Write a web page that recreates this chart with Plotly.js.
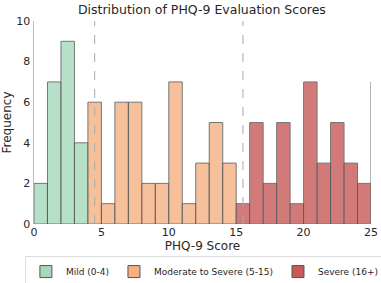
<!DOCTYPE html>
<html><head><meta charset="utf-8">
<script src="https://cdn.plot.ly/plotly-3.0.1.min.js"></script>
<style>html,body{margin:0;padding:0;background:#fff;}#chart{width:381px;height:283px;}</style>
</head><body><div id="chart"></div>
<script>
// bin centres (width-1 bins) and counts
const mildBins = [0.5, 1.5, 2.5, 3.5];
const mildCounts = [2, 7, 9, 4];
const moderateBins = [4.5, 5.5, 6.5, 7.5, 8.5, 9.5, 10.5, 11.5, 12.5, 13.5, 14.5];
const moderateCounts = [6, 1, 6, 6, 2, 2, 7, 1, 3, 5, 3];
const severeBins = [15.5, 16.5, 17.5, 18.5, 19.5, 20.5, 21.5, 22.5, 23.5, 24.5];
const severeCounts = [1, 5, 2, 5, 1, 7, 3, 5, 3, 2];
const seriesNames = ["Mild (0-4)", "Moderate to Severe (5-15)", "Severe (16+)"];
const cutoffs = [4.5, 15.5];
const xTicks = [0, 5, 10, 15, 20, 25];
const yTicks = [0, 2, 4, 6, 8, 10];

const colors = ["#a6d9bb", "#f4b183", "#c85a5a"];
function mk(x, y, i) {
  return {type: "bar", x: x, y: y, width: 1, name: seriesNames[i],
    marker: {color: colors[i], opacity: 0.8, line: {color: "#555555", width: 1}}};
}
const data = [mk(mildBins, mildCounts, 0), mk(moderateBins, moderateCounts, 1), mk(severeBins, severeCounts, 2)];
const font = "DejaVu Sans, sans-serif";
const shapes = cutoffs.map(c => ({type: "line", xref: "x", yref: "paper", x0: c, x1: c, y0: 0, y1: 1,
  line: {color: "#aaaaaa", width: 1, dash: "dash"}}));
shapes.push({type: "line", xref: "x", yref: "y", x0: 25, x1: 25, y0: 0, y1: 7, line: {color: "#666666", width: 1}});
const layout = {
  width: 381, height: 283,
  margin: {l: 34, r: 10, t: 21, b: 59, autoexpand: false},
  paper_bgcolor: "#fff", plot_bgcolor: "#fff",
  title: {text: "Distribution of PHQ-9 Evaluation Scores", font: {family: font, size: 12.5, color: "#262626"},
    x: 0.53, xanchor: "center", y: 0.965, yanchor: "middle"},
  bargap: 0,
  showlegend: true,
  legend: {orientation: "h", x: -0.027, xanchor: "left", y: -0.158, yanchor: "top",
    bordercolor: "#dddddd", borderwidth: 1, font: {family: font, size: 9, color: "#262626"},
    itemwidth: 30, traceorder: "normal"},
  xaxis: {range: [0, 25], tickvals: xTicks, showgrid: false, zeroline: false, showline: false,
    ticks: "", tickfont: {family: font, size: 11, color: "#262626"},
    title: {text: "PHQ-9 Score", font: {family: font, size: 12, color: "#262626"}, standoff: 0}},
  yaxis: {range: [0, 10], tickvals: yTicks, showgrid: false, zeroline: false, showline: true,
    linecolor: "#bbbbbb", linewidth: 1.5, ticks: "", tickfont: {family: font, size: 11, color: "#262626"},
    title: {text: "Frequency", font: {family: font, size: 12, color: "#262626"}, standoff: 4}},
  shapes: shapes
};
Plotly.newPlot("chart", data, layout, {displayModeBar: false, staticPlot: true});
</script></body></html>
